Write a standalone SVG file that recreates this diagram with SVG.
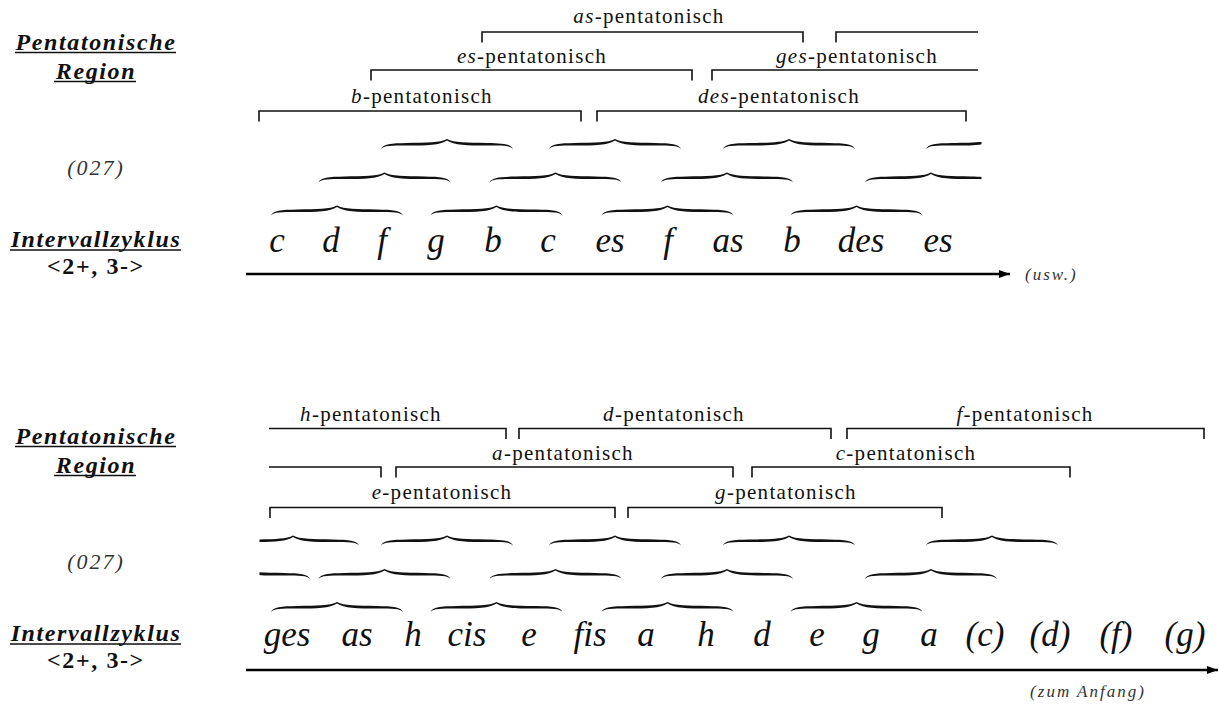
<svg xmlns="http://www.w3.org/2000/svg" xmlns:xlink="http://www.w3.org/1999/xlink" width="1219" height="705" viewBox="0 0 1219 705">
  <style>
    .side { font-family: "Liberation Serif", "Times New Roman", serif; font-weight: bold; font-style: italic; font-size: 24px; letter-spacing: 1.6px; fill: #111; }
    .cyc { font-family: "Liberation Serif", "Times New Roman", serif; font-weight: bold; font-size: 24px; letter-spacing: 1.6px; fill: #111; }
    .set { font-family: "Liberation Serif", "Times New Roman", serif; font-style: italic; font-size: 22px; letter-spacing: 2px; fill: #333; }
    .lbl { font-family: "Liberation Serif", "Times New Roman", serif; font-size: 21px; letter-spacing: 1.3px; fill: #111; }
    .lbl tspan.k { font-style: italic; }
    .note { font-family: "Liberation Serif", "Times New Roman", serif; font-style: italic; font-size: 35px; fill: #111; }
    .small { font-family: "Liberation Serif", "Times New Roman", serif; font-style: italic; font-size: 17px; letter-spacing: 2px; fill: #333; }
    .ul { stroke: #111; stroke-width: 1.6; }
    .br { fill: none; stroke: #111; stroke-width: 1.6; }
    .axis { stroke: #000; stroke-width: 2.6; }
    .brace { fill: #111; }
  </style>
  <defs>
    <!-- horizontal curly brace, 132 wide, tip at (0,0), ends at y=10 -->
    <path id="brace" d="M -66,10 C -64,5 -56,4.3 -40,4 C -20,3.6 -7,3.8 0,0 C 7,3.8 20,3.6 40,4 C 56,4.3 64,5 66,10 C 63,6.6 56,6.6 40,6.6 C 20,6.6 7,6.4 0,1.6 C -7,6.4 -20,6.6 -40,6.6 C -56,6.6 -63,6.6 -66,10 Z"/>
    <marker id="head" markerWidth="12" markerHeight="10" refX="11" refY="4" orient="auto" markerUnits="userSpaceOnUse">
      <path d="M0,0 L11,4 L0,8 Z" fill="#000"/>
    </marker>
    <clipPath id="clipTopRight"><rect x="0" y="0" width="981.5" height="705"/></clipPath>
    <clipPath id="clipBotLeft"><rect x="259.5" y="0" width="960" height="705"/></clipPath>
  </defs>

  <!-- ===== upper system ===== -->
  <g id="upper-side-labels">
    <text class="side" x="96" y="50" text-anchor="middle">Pentatonische</text>
    <line class="ul" x1="15" y1="52.5" x2="176" y2="52.5"/>
    <text class="side" x="96" y="79" text-anchor="middle">Region</text>
    <line class="ul" x1="54" y1="81.5" x2="136" y2="81.5"/>
    <text class="set" x="96" y="175" text-anchor="middle">(027)</text>
    <text class="side" x="96" y="247" text-anchor="middle">Intervallzyklus</text>
    <line class="ul" x1="10" y1="250" x2="181" y2="250"/>
    <text class="cyc" x="96" y="274" text-anchor="middle">&lt;2+, 3-&gt;</text>
  </g>

  <g id="upper-regions">
    <g id="as-pent">
      <path class="br" d="M482,42.5 V32 H803 V42.5"/>
      <text class="lbl" x="649" y="23" text-anchor="middle"><tspan class="k">as</tspan>-pentatonisch</text>
    </g>
    <g id="b-pent-cont">
      <path class="br" d="M836,42.5 V32 H978"/>
    </g>
    <g id="es-pent">
      <path class="br" d="M371,80.5 V70 H692 V80.5"/>
      <text class="lbl" x="532" y="63" text-anchor="middle"><tspan class="k">es</tspan>-pentatonisch</text>
    </g>
    <g id="ges-pent">
      <path class="br" d="M712,80.5 V70 H978"/>
      <text class="lbl" x="857" y="63" text-anchor="middle"><tspan class="k">ges</tspan>-pentatonisch</text>
    </g>
    <g id="b-pent">
      <path class="br" d="M259,121.5 V111 H581 V121.5"/>
      <text class="lbl" x="422" y="103" text-anchor="middle"><tspan class="k">b</tspan>-pentatonisch</text>
    </g>
    <g id="des-pent">
      <path class="br" d="M597,121.5 V111 H966 V121.5"/>
      <text class="lbl" x="779" y="103" text-anchor="middle"><tspan class="k">des</tspan>-pentatonisch</text>
    </g>
  </g>

  <g id="upper-027">
    <use class="brace" xlink:href="#brace" href="#brace" x="447" y="139"/>
    <use class="brace" xlink:href="#brace" href="#brace" x="615" y="139"/>
    <use class="brace" xlink:href="#brace" href="#brace" x="789" y="139"/>
    <g clip-path="url(#clipTopRight)"><use class="brace" xlink:href="#brace" href="#brace" x="992" y="139"/></g>
    <use class="brace" xlink:href="#brace" href="#brace" x="384.5" y="172.5"/>
    <use class="brace" xlink:href="#brace" href="#brace" x="555.5" y="172.5"/>
    <use class="brace" xlink:href="#brace" href="#brace" x="727" y="172.5"/>
    <g clip-path="url(#clipTopRight)"><use class="brace" xlink:href="#brace" href="#brace" x="931" y="172.5"/></g>
    <use class="brace" xlink:href="#brace" href="#brace" x="337" y="205.5"/>
    <use class="brace" xlink:href="#brace" href="#brace" x="496.5" y="205.5"/>
    <use class="brace" xlink:href="#brace" href="#brace" x="667.5" y="205.5"/>
    <use class="brace" xlink:href="#brace" href="#brace" x="856.5" y="205.5"/>
  </g>

  <g id="upper-cycle" class="note" text-anchor="middle">
    <text x="277" y="252">c</text>
    <text x="331" y="252">d</text>
    <text x="382" y="252">f</text>
    <text x="436" y="252">g</text>
    <text x="493" y="252">b</text>
    <text x="548" y="252">c</text>
    <text x="610" y="252">es</text>
    <text x="668" y="252">f</text>
    <text x="728" y="252">as</text>
    <text x="792" y="252">b</text>
    <text x="861" y="252">des</text>
    <text x="938" y="252">es</text>
  </g>
  <text id="usw" class="small" x="1025" y="280">(usw.)</text>

  <!-- ===== lower system ===== -->
  <g id="lower-side-labels">
    <text class="side" x="96" y="444" text-anchor="middle">Pentatonische</text>
    <line class="ul" x1="15" y1="446.5" x2="176" y2="446.5"/>
    <text class="side" x="96" y="473" text-anchor="middle">Region</text>
    <line class="ul" x1="54" y1="475.5" x2="136" y2="475.5"/>
    <text class="set" x="96" y="569" text-anchor="middle">(027)</text>
    <text class="side" x="96" y="641" text-anchor="middle">Intervallzyklus</text>
    <line class="ul" x1="10" y1="644" x2="181" y2="644"/>
    <text class="cyc" x="96" y="668" text-anchor="middle">&lt;2+, 3-&gt;</text>
  </g>

  <g id="lower-regions">
    <g id="h-pent">
      <path class="br" d="M269,428.5 H506 V439"/>
      <text class="lbl" x="371" y="421" text-anchor="middle"><tspan class="k">h</tspan>-pentatonisch</text>
    </g>
    <g id="d-pent">
      <path class="br" d="M519,439 V428.5 H831 V439"/>
      <text class="lbl" x="674" y="421" text-anchor="middle"><tspan class="k">d</tspan>-pentatonisch</text>
    </g>
    <g id="f-pent">
      <path class="br" d="M847,439 V428.5 H1204 V439"/>
      <text class="lbl" x="1025" y="421" text-anchor="middle"><tspan class="k">f</tspan>-pentatonisch</text>
    </g>
    <g id="fis-pent-end">
      <path class="br" d="M269,467 H381 V477.5"/>
    </g>
    <g id="a-pent">
      <path class="br" d="M396,477.5 V467 H733 V477.5"/>
      <text class="lbl" x="563" y="460" text-anchor="middle"><tspan class="k">a</tspan>-pentatonisch</text>
    </g>
    <g id="c-pent">
      <path class="br" d="M752,477.5 V467 H1070 V477.5"/>
      <text class="lbl" x="906" y="460" text-anchor="middle"><tspan class="k">c</tspan>-pentatonisch</text>
    </g>
    <g id="e-pent">
      <path class="br" d="M270,518 V507.5 H615 V518"/>
      <text class="lbl" x="442" y="499" text-anchor="middle"><tspan class="k">e</tspan>-pentatonisch</text>
    </g>
    <g id="g-pent">
      <path class="br" d="M628,518 V507.5 H942 V518"/>
      <text class="lbl" x="786" y="499" text-anchor="middle"><tspan class="k">g</tspan>-pentatonisch</text>
    </g>
  </g>

  <g id="lower-027">
    <g clip-path="url(#clipBotLeft)"><use class="brace" xlink:href="#brace" href="#brace" x="293" y="535.5"/></g>
    <use class="brace" xlink:href="#brace" href="#brace" x="447" y="535.5"/>
    <use class="brace" xlink:href="#brace" href="#brace" x="615" y="535.5"/>
    <use class="brace" xlink:href="#brace" href="#brace" x="789" y="535.5"/>
    <use class="brace" xlink:href="#brace" href="#brace" x="992" y="535.5"/>
    <g clip-path="url(#clipBotLeft)"><use class="brace" xlink:href="#brace" href="#brace" x="244" y="569"/></g>
    <use class="brace" xlink:href="#brace" href="#brace" x="384.5" y="569"/>
    <use class="brace" xlink:href="#brace" href="#brace" x="555.5" y="569"/>
    <use class="brace" xlink:href="#brace" href="#brace" x="727" y="569"/>
    <use class="brace" xlink:href="#brace" href="#brace" x="931" y="569"/>
    <use class="brace" xlink:href="#brace" href="#brace" x="337" y="602"/>
    <use class="brace" xlink:href="#brace" href="#brace" x="496.5" y="602"/>
    <use class="brace" xlink:href="#brace" href="#brace" x="667.5" y="602"/>
    <use class="brace" xlink:href="#brace" href="#brace" x="856.5" y="602"/>
  </g>

  <g id="lower-cycle" class="note" text-anchor="middle">
    <text x="287" y="646">ges</text>
    <text x="357" y="646">as</text>
    <text x="413" y="646">h</text>
    <text x="467" y="646">cis</text>
    <text x="529" y="646">e</text>
    <text x="590" y="646">fis</text>
    <text x="646" y="646">a</text>
    <text x="706" y="646">h</text>
    <text x="762" y="646">d</text>
    <text x="817" y="646">e</text>
    <text x="871" y="646">g</text>
    <text x="929" y="646">a</text>
    <text x="985" y="646">(c)</text>
    <text x="1050" y="646">(d)</text>
    <text x="1116" y="646">(f)</text>
    <text x="1185" y="646">(g)</text>
  </g>
  <text id="zum-anfang" class="small" x="1088" y="697" text-anchor="middle">(zum Anfang)</text>

  <!-- cycle axes -->
  <g id="connectors">
    <line class="axis" x1="246" y1="274" x2="1010" y2="274" marker-end="url(#head)"/>
    <line class="axis" x1="246" y1="670" x2="1218" y2="670" marker-end="url(#head)"/>
  </g>
</svg>
